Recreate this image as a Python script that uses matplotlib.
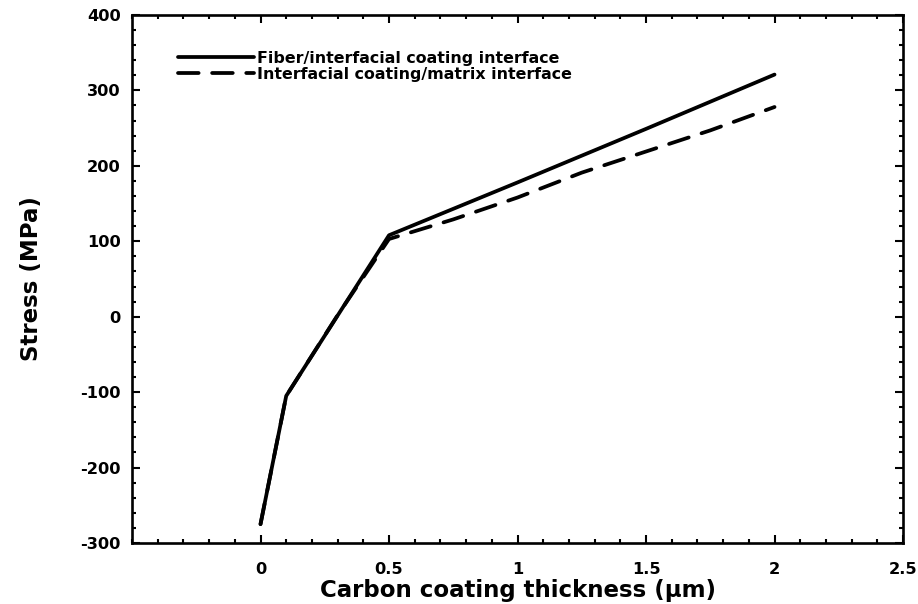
import matplotlib
matplotlib.use("Agg")
import matplotlib.pyplot as plt
from matplotlib.ticker import MultipleLocator, FixedLocator

plt.rcParams["font.family"] = ["DejaVu Sans"]
plt.rcParams["axes.unicode_minus"] = False

# Stress at the two interfaces vs. carbon coating thickness
thickness_fiber = [0.0, 0.1, 0.5, 1.0, 1.5, 2.0]
stress_fiber = [-275, -105, 108, 178, 249, 321]

thickness_matrix = [0.0, 0.1, 0.3, 0.5, 0.75, 1.0, 1.25, 1.5, 1.75, 2.0]
stress_matrix = [-275, -105, 2, 103, 129, 158, 191, 219, 247, 278]

label_fiber = "Fiber/interfacial coating interface"
label_matrix = "Interfacial coating/matrix interface"

x_ticks = [0, 0.5, 1, 1.5, 2, 2.5]
x_tick_labels = ["0", "0.5", "1", "1.5", "2", "2.5"]
y_ticks = [-300, -200, -100, 0, 100, 200, 300, 400]

fig = plt.figure(figsize=(9.18, 6.04), dpi=100)
ax = fig.add_axes([0.1438, 0.101, 0.8399, 0.8742])

ax.plot(thickness_fiber, stress_fiber, color="black", lw=2.7,
        solid_capstyle="round", solid_joinstyle="round", label=label_fiber)
ax.plot(thickness_matrix, stress_matrix, color="black", lw=2.7,
        dashes=(5.5, 3.6), dash_capstyle="round", label=label_matrix)

ax.set_xlim(-0.5, 2.5)
ax.set_ylim(-300, 400)
ax.xaxis.set_major_locator(FixedLocator(x_ticks))
ax.set_xticklabels(x_tick_labels)
ax.xaxis.set_minor_locator(MultipleLocator(0.1))
ax.set_yticks(y_ticks)
ax.set_yticklabels([str(v) for v in y_ticks])
ax.yaxis.set_minor_locator(MultipleLocator(20))

for side in ax.spines.values():
    side.set_linewidth(1.9)

ax.tick_params(which="both", direction="in", top=True, right=True,
               width=1.5, color="black")
ax.tick_params(which="major", length=6)
ax.tick_params(which="minor", length=3.2)
ax.tick_params(axis="x", which="major", pad=14)
ax.tick_params(axis="y", which="major", pad=8)
for lab in ax.get_xticklabels() + ax.get_yticklabels():
    lab.set_fontsize(11.7)
    lab.set_fontweight("bold")

ax.set_xlabel("Carbon coating thickness (\u00b5m)", fontsize=16.5,
              fontweight="bold", labelpad=1)
ax.set_ylabel("Stress (MPa)", fontsize=16.5, fontweight="bold", labelpad=27)

leg = ax.legend(loc="upper left", bbox_to_anchor=(0.0597, 0.932),
                frameon=False, borderpad=0, borderaxespad=0,
                handlelength=4.8, handletextpad=0.2, labelspacing=0.04,
                prop={"size": 11.4, "weight": "bold"})

fig.savefig("out.png", dpi=100, facecolor="white")
